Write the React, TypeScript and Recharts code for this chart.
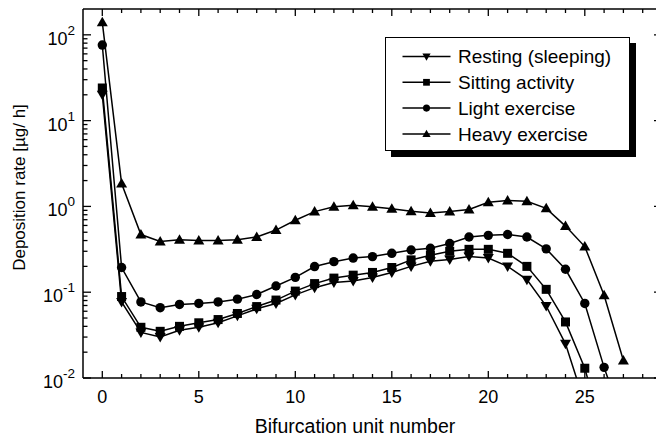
import React from 'react';
import { LineChart, Line, XAxis, YAxis } from 'recharts';

// bifurcation unit numbers
const units = [0, 1, 2, 3, 4, 5, 6, 7, 8, 9, 10, 11, 12, 13, 14, 15, 16, 17, 18, 19, 20, 21, 22, 23, 24, 25, 26, 27];

// deposition rate [ug/h]
const resting = [20, 0.077, 0.034, 0.03, 0.036, 0.039, 0.044, 0.053, 0.064, 0.074, 0.093, 0.113, 0.13, 0.135, 0.148, 0.17, 0.2, 0.23, 0.24, 0.26, 0.25, 0.2, 0.14, 0.069, 0.025, 0.005];
const sitting = [24, 0.089, 0.039, 0.035, 0.04, 0.044, 0.048, 0.0565, 0.068, 0.081, 0.103, 0.126, 0.146, 0.158, 0.17, 0.194, 0.238, 0.27, 0.3, 0.316, 0.316, 0.284, 0.2, 0.108, 0.045, 0.013, 0.002];
const light = [76, 0.194, 0.077, 0.066, 0.072, 0.074, 0.077, 0.083, 0.094, 0.118, 0.149, 0.199, 0.227, 0.25, 0.26, 0.284, 0.31, 0.325, 0.37, 0.44, 0.46, 0.47, 0.44, 0.32, 0.185, 0.074, 0.0133, 0.003];
const heavy = [140, 1.85, 0.47, 0.39, 0.41, 0.4, 0.4, 0.41, 0.44, 0.53, 0.69, 0.87, 0.99, 1.03, 0.99, 0.94, 0.88, 0.84, 0.87, 0.92, 1.12, 1.17, 1.15, 0.95, 0.59, 0.34, 0.092, 0.016];

const seriesNames = ['Resting (sleeping)', 'Sitting activity', 'Light exercise', 'Heavy exercise'];
const seriesKeys = ['resting', 'sitting', 'light', 'heavy'];

const xTicks = [0, 1, 2, 3, 4, 5, 6, 7, 8, 9, 10, 11, 12, 13, 14, 15, 16, 17, 18, 19, 20, 21, 22, 23, 24, 25, 26, 27, 28];
const xLabels = [0, 5, 10, 15, 20, 25];
const yMajor = [0.01, 0.1, 1, 10, 100];
const yTicks = [
  0.01, 0.02, 0.03, 0.04, 0.05, 0.06, 0.07, 0.08, 0.09,
  0.1, 0.2, 0.3, 0.4, 0.5, 0.6, 0.7, 0.8, 0.9,
  1, 2, 3, 4, 5, 6, 7, 8, 9,
  10, 20, 30, 40, 50, 60, 70, 80, 90,
  100,
];

const data = units.map((u, i) => ({
  unit: u,
  resting: resting[i] ?? null,
  sitting: sitting[i] ?? null,
  light: light[i] ?? null,
  heavy: heavy[i] ?? null,
}));

const FONT = '"Liberation Sans", Arial, sans-serif';

const isMajorY = (v: number) => yMajor.some((m) => Math.abs(m - v) < 1e-9);

const Marker = ({ kind, cx, cy, s = 1 }: any) => {
  if (kind === 'resting') {
    return <polygon points={`${cx - 5.5 * s},${cy - 4 * s} ${cx + 5.5 * s},${cy - 4 * s} ${cx},${cy + 5.5 * s}`} fill="#000" />;
  }
  if (kind === 'sitting') {
    return <rect x={cx - 4.5 * s} y={cy - 4.5 * s} width={9 * s} height={9 * s} fill="#000" />;
  }
  if (kind === 'light') {
    return <circle cx={cx} cy={cy} r={4.7 * s} fill="#000" />;
  }
  return <polygon points={`${cx - 5.5 * s},${cy + 4 * s} ${cx + 5.5 * s},${cy + 4 * s} ${cx},${cy - 5.5 * s}`} fill="#000" />;
};

const makeDot = (kind: string) => (props: any) => {
  const { cx, cy, index } = props;
  if (cx == null || cy == null) return <g key={`d-${kind}-${index}`} />;
  return (
    <g key={`d-${kind}-${index}`}>
      <Marker kind={kind} cx={cx} cy={cy} />
    </g>
  );
};

const BottomTick = ({ x, y, payload }: any) => {
  const v = payload.value;
  const major = v % 5 === 0;
  return (
    <g>
      <line x1={x} x2={x} y1={y} y2={y - (major ? 7 : 4)} stroke="#000" strokeWidth={1.3} />
      {xLabels.includes(v) && (
        <text x={x} y={y + 25} textAnchor="middle" fontSize={18} fontFamily={FONT} fill="#000">
          {v}
        </text>
      )}
    </g>
  );
};

const TopTick = ({ x, y, payload }: any) => {
  const major = payload.value % 5 === 0;
  return <line x1={x} x2={x} y1={y} y2={y + (major ? 7 : 4)} stroke="#000" strokeWidth={1.3} />;
};

const LeftTick = ({ x, y, payload }: any) => {
  const v = payload.value;
  const major = isMajorY(v);
  const exp = Math.round(Math.log10(v));
  return (
    <g>
      <line x1={x} x2={x + (major ? 8 : 4.5)} y1={y} y2={y} stroke="#000" strokeWidth={1.3} />
      {major && (
        <text x={x - 8} y={y + 10} textAnchor="end" fontSize={18} fontFamily={FONT} fill="#000">
          <tspan>10</tspan>
          <tspan dy={-10} fontSize={13.5}>{exp}</tspan>
        </text>
      )}
    </g>
  );
};

const RightTick = ({ x, y, payload }: any) => {
  const major = isMajorY(payload.value);
  return <line x1={x} x2={x - (major ? 8 : 4.5)} y1={y} y2={y} stroke="#000" strokeWidth={1.3} />;
};

// boxed legend with drop shadow, drawn over the chart
const LegendBox = () => (
  <svg
    width={256}
    height={124}
    style={{ position: 'absolute', left: 385, top: 37, display: 'block', overflow: 'visible' }}
  >
    <rect x={6} y={6} width={245} height={114} fill="#000" />
    <rect x={0.5} y={0.5} width={244} height={113} fill="#fff" stroke="#000" strokeWidth={1} />
    {seriesKeys.map((k, i) => {
      const cy = 19.5 + i * 25.8;
      return (
        <g key={k}>
          <line x1={17.5} x2={65.5} y1={cy} y2={cy} stroke="#000" strokeWidth={1.5} />
          <Marker kind={k} cx={41.5} cy={cy} s={0.75} />
          <text x={73} y={cy + 6.8} fontSize={19} fontFamily={FONT} fill="#000">
            {seriesNames[i]}
          </text>
        </g>
      );
    })}
  </svg>
);

export default function App() {
  return (
    <div style={{ position: 'absolute', left: 0, top: 0, width: 656, height: 436, overflow: 'hidden', background: '#fff' }}>
      <LineChart width={672} height={436} data={data} margin={{ top: 8, right: 9, bottom: 0, left: 8 }}>
        <XAxis
          xAxisId="b"
          dataKey="unit"
          type="number"
          domain={[-1, 29]}
          allowDataOverflow
          ticks={xTicks}
          interval={0}
          tickSize={0}
          tickMargin={0}
          tickLine={false}
          height={58}
          axisLine={{ stroke: '#000', strokeWidth: 1.5 }}
          tick={<BottomTick />}
          label={() => (
            <text x={355} y={433} textAnchor="middle" fontSize={19.5} fontFamily={FONT} fill="#000">
              Bifurcation unit number
            </text>
          )}
        />
        <XAxis
          xAxisId="t"
          orientation="top"
          dataKey="unit"
          type="number"
          domain={[-1, 29]}
          allowDataOverflow
          ticks={xTicks}
          interval={0}
          tickSize={0}
          tickMargin={0}
          tickLine={false}
          height={1}
          axisLine={{ stroke: '#000', strokeWidth: 1.5 }}
          tick={<TopTick />}
        />
        <YAxis
          yAxisId="l"
          scale="log"
          type="number"
          domain={[0.01, 200]}
          allowDataOverflow
          ticks={yTicks}
          interval={0}
          tickSize={0}
          tickMargin={0}
          tickLine={false}
          width={75}
          axisLine={{ stroke: '#000', strokeWidth: 1.5 }}
          tick={<LeftTick />}
          label={() => (
            <text
              x={25}
              y={187.5}
              transform="rotate(-90, 25, 187.5)"
              textAnchor="middle"
              fontSize={17}
              fontFamily={FONT}
              fill="#000"
            >
              Deposition rate [µg/ h]
            </text>
          )}
        />
        <YAxis
          yAxisId="r"
          orientation="right"
          scale="log"
          type="number"
          domain={[0.01, 200]}
          allowDataOverflow
          ticks={yTicks}
          interval={0}
          tickSize={0}
          tickMargin={0}
          tickLine={false}
          width={1}
          axisLine={{ stroke: '#000', strokeWidth: 1.5 }}
          tick={<RightTick />}
        />
        {seriesKeys.map((k, i) => (
          <Line
            key={k}
            xAxisId="b"
            yAxisId="l"
            type="linear"
            dataKey={k}
            name={seriesNames[i]}
            stroke="#000"
            strokeWidth={1.5}
            dot={makeDot(k)}
            activeDot={false}
            isAnimationActive={false}
          />
        ))}
      </LineChart>
      <LegendBox />
    </div>
  );
}
